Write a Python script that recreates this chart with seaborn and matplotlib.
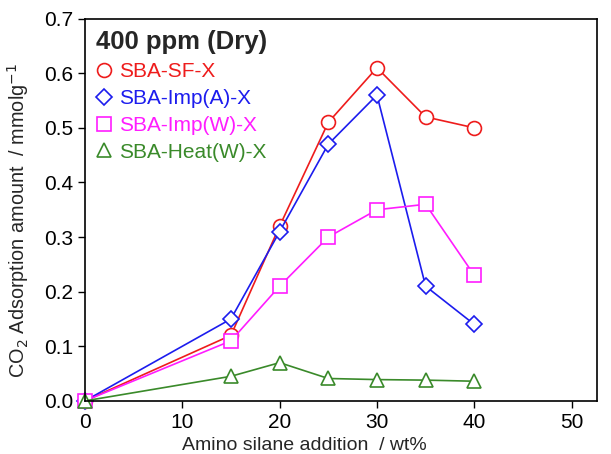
import pandas as pd
import matplotlib.pyplot as plt
import seaborn as sns
from matplotlib.lines import Line2D

# Daten
amine_wt = [0, 15, 20, 25, 30, 35, 40]
sba_sf = [0.0, 0.12, 0.32, 0.51, 0.61, 0.52, 0.50]
sba_imp_a = [0.0, 0.15, 0.31, 0.47, 0.56, 0.21, 0.14]
sba_imp_w = [0.0, 0.11, 0.21, 0.30, 0.35, 0.36, 0.23]
sba_heat_w = [0.0, 0.045, 0.07, 0.041, 0.039, 0.038, 0.036]

series_names = ["SBA-SF-X", "SBA-Imp(A)-X", "SBA-Imp(W)-X", "SBA-Heat(W)-X"]
series_values = [sba_sf, sba_imp_a, sba_imp_w, sba_heat_w]
colors = ["#ee1c1c", "#1c1cee", "#ff1cff", "#3a8a2a"]
markers = ["o", "D", "s", "^"]
msizes = [10, 8, 9.5, 10]

df = pd.concat(
    [pd.DataFrame({"x": amine_wt, "y": vals, "sample": name})
     for name, vals in zip(series_names, series_values)],
    ignore_index=True,
)

sns.set_style("ticks")
plt.rcParams["font.family"] = ["Liberation Sans", "DejaVu Sans"]

fig = plt.figure(figsize=(6.11, 4.54), dpi=100)
ax = fig.add_axes([0.139, 0.117, 0.838, 0.842])

sns.lineplot(data=df, x="x", y="y", hue="sample", style="sample",
             palette=dict(zip(series_names, colors)),
             markers=dict(zip(series_names, markers)), dashes=False,
             linewidth=1.2, legend=False, ax=ax)

for line, c, ms in zip(ax.get_lines(), colors, msizes):
    line.set_markerfacecolor("white")
    line.set_markeredgecolor(c)
    line.set_markeredgewidth(1.2)
    line.set_markersize(ms)
    line.set_clip_on(False)

ax.set_xlim(0, 52.6)
ax.set_ylim(0, 0.7)
ax.set_xticks([0, 10, 20, 30, 40, 50])
ax.set_yticks([0.0, 0.1, 0.2, 0.3, 0.4, 0.5, 0.6, 0.7])
ax.set_yticklabels([f"{v:.1f}" for v in ax.get_yticks()])
ax.tick_params(labelsize=15, direction="out", length=5, width=1, colors="black")
for s in ax.spines.values():
    s.set_linewidth(1.2)
    s.set_color("black")

ax.set_xlabel("Amino silane addition  / wt%", fontsize=14)
ax.xaxis.set_label_coords(0.428, -0.095)
ax.set_ylabel("CO$_2$ Adsorption amount  / mmolg$^{-1}$", fontsize=14.3)
ax.yaxis.set_label_coords(-0.105, 0.473)

handles = [Line2D([], [], linestyle="none", marker=m, markersize=ms,
                  markerfacecolor="white", markeredgecolor=c, markeredgewidth=1.2)
           for m, c, ms in zip(markers, colors, msizes)]
leg = ax.legend(handles, series_names, loc="upper left", frameon=False,
                fontsize=15, labelcolor=colors, title="400 ppm (Dry)",
                title_fontproperties={"weight": "bold", "size": 18.5},
                alignment="left", handlelength=0.7, handletextpad=0.4,
                labelspacing=0.38, borderaxespad=0.2, borderpad=0.35)

fig.savefig("out.png", dpi=100)
